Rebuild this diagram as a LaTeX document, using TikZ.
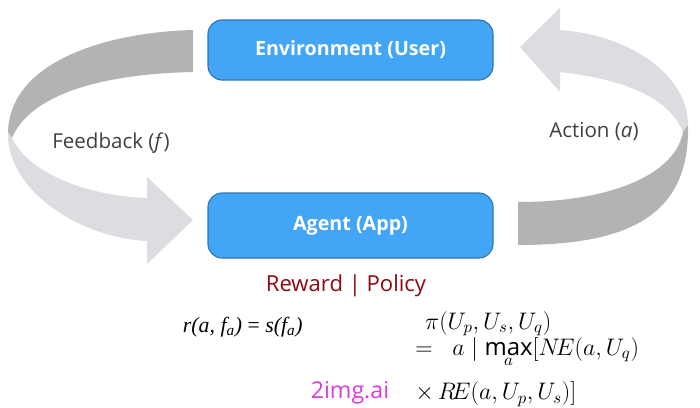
\documentclass[tikz,border=0pt]{standalone}
\usepackage{fix-cm}
\usepackage{fontspec}
\setmainfont{Open Sans}
\newfontfamily\timesfont{Liberation Serif}
\definecolor{boxfill}{RGB}{66,165,245}
\definecolor{boxline}{RGB}{46,117,182}
\definecolor{ribdark}{RGB}{178,179,181}
\definecolor{riblight}{RGB}{220,221,224}
\definecolor{labelgray}{RGB}{64,64,64}
\definecolor{rewardred}{RGB}{140,10,20}
\definecolor{markpink}{RGB}{220,60,220}
\begin{document}
\begin{tikzpicture}[x=0.025cm,y=-0.025cm,
    bluebox/.style={draw=boxline, fill=boxfill, rounded corners=10pt, line width=0.8pt,
                    minimum width=285*0.025cm, text=white, font=\fontsize{14}{17}\selectfont\bfseries},
    looplabel/.style={text=labelgray, font=\fontsize{14.6}{17}\selectfont},
    formula/.style={anchor=base west, font=\fontsize{15.5}{17}\selectfont}]
  \useasboundingbox (0,0) rectangle (700,408);

  % left ribbon: back side, then front with arrow head
  \fill[ribdark]   (193,30)  .. controls (110,32)  and (10,60)   .. (8,132)
                -- (12,138)  .. controls (30,95)   and (100,74)  .. (193,72) -- cycle;
  \fill[riblight]  (8,132)   .. controls (6,190)   and (80,238)  .. (147,241)
                -- (147,264) -- (193,220) -- (147,177) -- (147,198)
                             .. controls (90,196)  and (30,175)  .. (12,138) -- cycle;

  % right ribbon: front with arrow head, then back side
  \fill[riblight]  (560,30)  .. controls (630,35)  and (688,75)  .. (688,125)
                -- (683,132) .. controls (670,100) and (630,80)  .. (560,72)
                -- (560,92)  -- (520,47)  -- (560,8) -- cycle;
  \fill[ribdark]   (688,125) .. controls (690,215) and (630,245) .. (518,245)
                -- (518,202) .. controls (610,202) and (675,175) .. (683,132) -- cycle;

  \node[bluebox, minimum height=60*0.025cm] (env)   at (350.5,50)    {Environment (User)};
  \node[bluebox, minimum height=65*0.025cm] (agent) at (350.5,225.5) {Agent (App)};

  \node[looplabel] (feedback) at (111,143) {Feedback (\textit{f})};
  \node[looplabel] (action)   at (594,132) {Action (\textit{a})};

  \node[text=rewardred, font=\fontsize{15.7}{18}\selectfont] (reward) at (346,286) {Reward | Policy};

  \node[formula, font=\fontsize{15.5}{17}\timesfont\itshape] (rfun) at (178,332)
    {r(a, f\textsubscript{a}) {\upshape=} s(f\textsubscript{a})};

  \node[formula, align=left, anchor=north west, inner sep=0pt,
        font=\fontsize{17}{15}\selectfont] (policy) at (415,311)
    {\lineskiplimit=-100pt\hbox{\kern7pt$\pi\bigl(U_p,U_s,U_q\bigr)$}\\
     $=\;\; a\mid\max\limits_a\Bigl[N\!E\bigl(a,U_q\bigr)$\\[10pt]
     $\mathord{\times}\,R\!E\bigl(a,U_p,U_s\bigr)\Bigr]$};

  \node[text=markpink, font=\fontsize{16.5}{18}\selectfont] (mark) at (350,393) {2img.ai};
\end{tikzpicture}
\end{document}
